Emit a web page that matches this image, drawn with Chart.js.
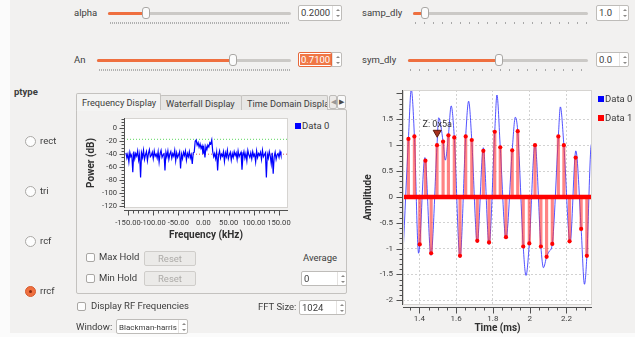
<!DOCTYPE html>
<html><head><meta charset="utf-8">
<script src="https://cdn.jsdelivr.net/npm/chart.js@4.4.1/dist/chart.umd.min.js"></script>
<style>
html,body{margin:0;padding:0;width:635px;height:337px;overflow:hidden;background:#fbfbfb;}
body{font-family:Roboto,"Liberation Sans",sans-serif;font-size:9.5px;color:#3c3c3c;position:relative;}
.a{position:absolute;}
.lbl{position:absolute;height:12px;line-height:12px;white-space:nowrap;}
.track{position:absolute;height:3px;background:#cbc9c6;border-radius:2px;}
.fill{position:absolute;height:3px;background:#ef6f3f;border-radius:2px;}
.handle{position:absolute;width:6px;height:10px;background:#fbfbfb;border:1px solid #a9a7a4;border-radius:3px;}
.ticksD{position:absolute;height:2px;background:repeating-linear-gradient(to right,#b0b0b0 0 1px,transparent 1px 2px);}
.ticksS{position:absolute;height:2px;background:repeating-linear-gradient(to right,#a8a8a8 0 1px,transparent 1px 9px);}
.box{position:absolute;background:#fff;border:1px solid #bebcb9;border-radius:2px;box-sizing:border-box;}
.arrs{position:absolute;width:8px;}
.up,.dn{position:absolute;left:2px;width:0;height:0;border-left:2px solid transparent;border-right:2px solid transparent;}
.up{border-bottom:2px solid #8a8886;}
.dn{border-top:2px solid #8a8886;}
.radio{position:absolute;width:11px;height:11px;border-radius:50%;box-sizing:border-box;border:1px solid #a9a7a4;background:#fdfdfd;}
.radio.on{background:#ef7040;border-color:#d65a2c;}
.radio.on:after{content:"";position:absolute;left:3px;top:3px;width:3px;height:3px;border-radius:50%;background:#8a2a10;}
.chk{position:absolute;width:9px;height:9px;box-sizing:border-box;border:1px solid #a9a7a4;border-radius:2px;background:#fdfdfd;}
.btn{position:absolute;box-sizing:border-box;border:1px solid #cfcdca;border-radius:2px;background:#ebeae8;color:#acaaa7;text-align:center;}
.tab{position:absolute;box-sizing:border-box;border:1px solid #c4c2bf;border-bottom:none;border-radius:2px 2px 0 0;background:#e7e6e4;overflow:hidden;white-space:nowrap;line-height:16px;padding-left:5px;font-size:9.2px;}
canvas{position:absolute;}
</style>
</head><body>
<div class="a" style="left:10px;top:0;width:625px;height:333px;background:#f2f1f0"></div>

<!-- tab pane -->
<div class="a" style="left:76px;top:109px;width:271px;height:185px;box-sizing:border-box;border:1px solid #c4c2bf;border-radius:2px;background:#f2f1f0"></div>
<div class="tab" style="left:160px;top:95px;width:82px;height:15px;">Waterfall Display</div>
<div class="tab" style="left:241px;top:95px;width:87px;height:15px;">Time Domain Display</div>
<div class="tab" style="left:76px;top:93px;width:85px;height:17px;background:#f4f4f3;line-height:17px;">Frequency Display</div>
<div class="a" style="left:77px;top:109px;width:83px;height:2px;background:#f4f4f3"></div>
<div class="box" style="left:329px;top:95px;width:8px;height:14px;background:#eceae8;color:#9a9896;font-size:7px;line-height:13px;text-align:center">&#9664;</div>
<div class="box" style="left:337px;top:95px;width:9px;height:14px;background:#fafafa;color:#4a4a4a;font-size:7px;line-height:13px;text-align:center">&#9654;</div>

<canvas id="freq" width="214" height="134" style="left:81px;top:110px;width:214px;height:134px"></canvas>
<canvas id="time" width="240" height="255" style="left:360px;top:82px;width:240px;height:255px"></canvas>

<script>
// ---------------- data ----------------
// Frequency display (FFT bins)
const FREQ_START_KHZ = -154;
const FREQ_STEP_KHZ = 1.937;
const POWER_DB = [
 -38,-46,-40,-52,-37,-44,-41,-68,-36,-47,-39,-43,-35,-49,-40,-76,
 -38,-45,-34,-48,-41,-36,-50,-39,-33,-44,-42,-37,-47,-35,-43,-40,
 -46,-36,-52,-39,-34,-45,-41,-38,-65,-37,-44,-35,-48,-40,-36,-46,
 -39,-43,-34,-50,-38,-45,-41,-36,-62,-40,-47,-37,-42,-35,-49,-39,
 -44,-36,-46,-41,-55,-38,-37,
 -20,-18,-26,-22,-29,-24,-31,-27,-40,-30,-45,-28,-33,-26,-29,-22,-24,-18,
 -36,-44,-39,-47,-37,-65,-41,
 -35,-46,-40,-43,-36,-51,-38,-44,-34,-47,-41,-37,-49,-39,-45,-36,
 -42,-38,-48,-35,-44,-40,-37,-64,-43,-36,-46,-39,-50,-34,-41,-45,
 -38,-47,-36,-43,-40,-52,-35,-45,-39,-42,-37,-48,-34,-44,-41,-38,
 -76,-40,-46,-36,-43,-55,-38,-70,-44,-37,-48,-41,-39,-45,-36,-42];
const MARKER_HIGH_DB = -17;
const MARKER_LOW_DB = -40;
const FREQ_TICKS = [-150,-100,-50,0,50,100,150];
const POWER_TICKS = [0,-20,-40,-60,-80,-100,-120];
const FREQ_MIN = -157.9, FREQ_MAX = 167.9, POWER_MIN = -123.1, POWER_MAX = 15.9;

// Time domain display
const WAVE_T = [1.311,1.3405,1.356,1.373,1.396,1.402,1.430,1.463,1.496,1.505,1.529,1.541,1.558,1.573,1.590,1.621,1.652,1.668,1.685,1.715,1.748,1.779,1.810,1.822,1.840,1.871,1.905,1.922,1.935,1.965,1.980,1.998,2.029,2.061,2.075,2.092,2.107,2.123,2.156,2.167,2.186,2.220,2.251,2.280,2.298,2.311,2.332,2.339];
const WAVE_V = [-1.12,1.12,2.08,1.17,-1.09,-0.92,0.76,-1.13,1.00,1.53,1.07,0.71,1.19,1.76,1.15,-1.17,1.17,1.85,1.10,-0.88,0.95,-0.92,1.26,1.97,0.96,-0.81,0.90,1.54,1.27,-0.96,-1.52,-0.90,1.02,-0.96,-1.37,-1.16,-1.05,-0.91,1.17,1.74,1.00,-0.88,0.89,-0.62,-1.69,-1.14,0.91,1.05];
const SYM_T = [1.3405,1.373,1.402,1.433,1.464,1.496,1.529,1.558,1.590,1.621,1.652,1.685,1.715,1.748,1.779,1.810,1.840,1.871,1.905,1.935,1.965,1.998,2.029,2.061,2.092,2.123,2.156,2.186,2.217,2.250,2.280,2.311];
const SYM_V = [1.12,1.17,-0.92,0.70,-1.09,1.00,1.07,1.19,1.15,-1.14,1.17,1.10,-0.85,0.89,-0.88,1.26,0.96,-0.78,0.90,1.27,-0.96,-0.90,1.00,-0.96,-1.16,-0.91,1.17,1.00,-0.86,0.76,-0.62,-1.14];
const TAG_T = [1.497];
const TAG_V = [1.22];
const TAG_TEXT = ['Z: 0x5a'];
const TIME_TICKS = [1.4,1.6,1.8,2.0,2.2];
const AMP_TICKS = [-2,-1.5,-1,-0.5,0,0.5,1,1.5];
const T_MIN = 1.311, T_MAX = 2.339, AMP_MIN = -2.091, AMP_MAX = 2.067;

// ---------------- widgets ----------------
function el(cls, css, html){const d=document.createElement('div');d.className=cls;d.style.cssText=css;if(html!=null)d.innerHTML=html;document.body.appendChild(d);return d;}
function slider(label, lx, x0, x1, hx, cy, dense){
  el('lbl','left:'+lx+'px;top:'+(cy-6)+'px',label);
  el('track','left:'+x0+'px;top:'+(cy-1)+'px;width:'+(x1-x0)+'px');
  el('fill','left:'+x0+'px;top:'+(cy-1)+'px;width:'+(hx-x0)+'px');
  el('handle','left:'+(hx-4)+'px;top:'+(cy-6)+'px');
  el(dense?'ticksD':'ticksS','left:'+(x0+2)+'px;top:'+(cy+9)+'px;width:'+(x1-x0-3)+'px');
}
function spin(x0,x1,y0,y1,text,sel){
  el('box','left:'+x0+'px;top:'+y0+'px;width:'+(x1-x0)+'px;height:'+(y1-y0)+'px');
  el('a','left:'+(x1-10)+'px;top:'+(y0+1)+'px;width:1px;height:'+(y1-y0-2)+'px;background:#e4e2e0');
  const ar=el('arrs','left:'+(x1-8)+'px;top:'+y0+'px;height:'+(y1-y0)+'px');
  const u=document.createElement('div');u.className='up';u.style.top=((y1-y0)/2-4)+'px';ar.appendChild(u);
  const d=document.createElement('div');d.className='dn';d.style.top=((y1-y0)/2+2)+'px';ar.appendChild(d);
  if(sel){
    el('box','left:'+x0+'px;top:'+y0+'px;width:'+(x1-x0-10)+'px;height:'+(y1-y0)+'px;border-color:#e8683a');
    el('a','left:'+(x0+2)+'px;top:'+(y0+2)+'px;height:'+(y1-y0-4)+'px;line-height:'+(y1-y0-4)+'px;background:#f07746;color:#fff;padding:0 1px',text);
  } else {
    el('lbl','left:'+(x0+3)+'px;top:'+((y0+y1)/2-6)+'px',text);
  }
}
slider('alpha',74,108,291,146,13,true);
slider('An',74,97,291,233,60,true);
slider('samp_dly',362,413,588,425,13,false);
slider('sym_dly',362,408,588,499,60,false);
spin(298,342,5,21,'0.2000',false);
spin(298,342,52,67,'0.7100',true);
spin(596,629,5,21,'1.0',false);
spin(596,629,52,67,'0.0',false);

el('lbl','left:14px;top:86px;font-weight:bold','ptype');
[['rect',141,false],['tri',191,false],['rcf',241,false],['rrcf',291,true]].forEach(r=>{
  el('radio'+(r[2]?' on':''),'left:25px;top:'+(r[1]-5)+'px');
  el('lbl','left:40px;top:'+(r[1]-6)+'px',r[0]);
});

el('chk','left:86px;top:253px');
el('lbl','left:99px;top:251px','Max Hold');
el('btn','left:144px;top:251px;width:52px;height:15px;line-height:13px','Reset');
el('chk','left:86px;top:274px');
el('lbl','left:99px;top:272px','Min Hold');
el('btn','left:144px;top:271px;width:52px;height:15px;line-height:13px','Reset');
el('lbl','left:303px;top:252px','Average');
spin(301,347,271,286,'0',false);
el('chk','left:77px;top:302px');
el('lbl','left:91px;top:300px','Display RF Frequencies');
el('lbl','left:258px;top:301px','FFT Size:');
spin(299,346,300,315,'1024',false);
el('lbl','left:76px;top:321px','Window:');
spin(116,188,319,334,'<span style="font-size:8px">Blackman-harris</span>',false);

// legends
el('a','left:295px;top:123px;width:6px;height:6px;background:#0000ff');
el('lbl','left:302px;top:120px','Data 0');
el('a','left:598px;top:96px;width:6px;height:6px;background:#0000ff');
el('lbl','left:605px;top:93px','Data 0');
el('a','left:598px;top:115px;width:6px;height:6px;background:#ff0000');
el('lbl','left:605px;top:112px','Data 1');

// ---------------- charts ----------------
const qwt = {
  id:'qwt',
  beforeDraw(chart){
    const {ctx, chartArea:a} = chart;
    ctx.save(); ctx.fillStyle='#ffffff'; ctx.fillRect(a.left,a.top,a.right-a.left,a.bottom-a.top); ctx.restore();
  },
  afterDraw(chart, args, o){
    const {ctx, chartArea:a} = chart, xs = chart.scales.x, ys = chart.scales.y;
    ctx.save();
    ctx.strokeStyle='#d6d4d1'; ctx.lineWidth=1;
    ctx.strokeRect(a.left+0.5,a.top+0.5,a.right-a.left-1,a.bottom-a.top-1);
    ctx.strokeStyle='#505050';
    const bx = Math.round(a.left - o.yGap) + 0.5;
    const by = Math.round(a.bottom + o.xGap) + 0.5;
    ctx.beginPath(); ctx.moveTo(bx, a.top); ctx.lineTo(bx, a.bottom); ctx.stroke();
    ctx.beginPath(); ctx.moveTo(a.left, by); ctx.lineTo(a.right, by); ctx.stroke();
    function marks(from, to, minor, major, draw){
      const k0 = Math.ceil(from/minor - 1e-9), k1 = Math.floor(to/minor + 1e-9);
      for(let k=k0;k<=k1;k++){const v=k*minor; const r=v/major; draw(v, Math.abs(r-Math.round(r))<1e-6);}
    }
    ctx.beginPath();
    marks(o.yFrom,o.yTo,o.yMinor,o.yMajor,(v,maj)=>{const p=Math.round(ys.getPixelForValue(v))+0.5; ctx.moveTo(bx,p); ctx.lineTo(bx-(maj?o.majLen:o.minLen),p);});
    marks(o.xFrom,o.xTo,o.xMinor,o.xMajor,(v,maj)=>{const p=Math.round(xs.getPixelForValue(v))+0.5; ctx.moveTo(p,by); ctx.lineTo(p,by+(maj?o.majLen:o.minLen));});
    ctx.stroke();
    if(o.tags){
      o.tags.t.forEach((t,i)=>{
        const px = xs.getPixelForValue(t), py = ys.getPixelForValue(o.tags.v[i]);
        ctx.fillStyle='#a8321f'; ctx.strokeStyle='#5a1a10';
        ctx.beginPath(); ctx.moveTo(px-4,py-3.5); ctx.lineTo(px+4,py-3.5); ctx.lineTo(px,py+3.5); ctx.closePath(); ctx.fill(); ctx.stroke();
        ctx.fillStyle='#333'; ctx.font='9px Roboto'; ctx.textAlign='center'; ctx.textBaseline='alphabetic';
        ctx.fillText(o.tags.text[i], px, py-7);
      });
    }
    ctx.restore();
  }
};

const tickFont = {family:'Roboto', size:7.6};
const titleFont = {family:'Roboto', size:10, weight:'bold'};

new Chart(document.getElementById('freq'), {
  type:'line',
  data:{datasets:[
    {label:'Data 0', data:POWER_DB.map((v,i)=>({x:FREQ_START_KHZ+i*FREQ_STEP_KHZ, y:v})), borderColor:'#0000ff', borderWidth:1.2, pointRadius:0, tension:0, order:0},
    {label:'high', data:[{x:FREQ_MIN,y:MARKER_HIGH_DB},{x:FREQ_MAX,y:MARKER_HIGH_DB}], borderColor:'#5bd65b', borderWidth:1, borderDash:[1,2], pointRadius:0, order:1},
    {label:'low', data:[{x:FREQ_MIN,y:MARKER_LOW_DB},{x:FREQ_MAX,y:MARKER_LOW_DB}], borderColor:'#d25a5a', borderWidth:1, borderDash:[1,2], pointRadius:0, order:1}
  ]},
  options:{
    responsive:false, animation:false, devicePixelRatio:1,
    layout:{padding:{left:0,right:7,top:8,bottom:0}},
    plugins:{legend:{display:false}, tooltip:{enabled:false},
      qwt:{yGap:0.5,xGap:1.5,majLen:5,minLen:3,yFrom:-120,yTo:15,yMinor:5,yMajor:20,xFrom:-150,xTo:150,xMinor:10,xMajor:50}},
    scales:{
      x:{type:'linear',min:FREQ_MIN,max:FREQ_MAX,offset:false,
        afterFit:s=>{s.height=36;},
        afterBuildTicks:s=>{s.ticks=FREQ_TICKS.map(v=>({value:v}));},
        ticks:{autoSkip:false,maxRotation:0,minRotation:0,includeBounds:false,padding:3,color:'#3c3c3c',font:tickFont,callback:v=>v.toFixed(2)},
        grid:{display:true,drawOnChartArea:false,drawTicks:true,tickLength:8,color:'rgba(0,0,0,0)',offset:false},
        border:{display:false},
        title:{display:true,text:'Frequency (kHz)',color:'#303030',font:titleFont,padding:{top:0,bottom:3}}},
      y:{type:'linear',min:POWER_MIN,max:POWER_MAX,
        afterFit:s=>{s.width=43;},
        afterBuildTicks:s=>{s.ticks=POWER_TICKS.map(v=>({value:v}));},
        ticks:{autoSkip:false,includeBounds:false,padding:2,color:'#3c3c3c',font:tickFont,callback:v=>String(v)},
        grid:{display:true,drawOnChartArea:false,drawTicks:true,tickLength:5,color:'rgba(0,0,0,0)'},
        border:{display:false},
        title:{display:true,text:'Power (dB)',color:'#303030',font:titleFont,padding:{top:4,bottom:0}}}
    }
  },
  plugins:[qwt]
});

const symPts = SYM_T.map((t,i)=>({x:t,y:SYM_V[i]}));
new Chart(document.getElementById('time'), {
  type:'scatter',
  data:{datasets:[
    {type:'line', label:'Data 0', data:WAVE_T.map((t,i)=>({x:t,y:WAVE_V[i]})), borderColor:'rgba(40,40,255,0.8)', borderWidth:1, pointRadius:0, cubicInterpolationMode:'monotone', order:3},
    {type:'bar', label:'Data 1 stems', data:symPts, backgroundColor:'rgba(255,50,50,0.6)', barThickness:2.5, order:2},
    {type:'line', label:'Data 1 zero', data:[{x:T_MIN,y:0},{x:T_MAX,y:0}], borderColor:'#ff0000', borderWidth:4.5, pointRadius:0, order:1},
    {type:'scatter', label:'Data 1', data:symPts, backgroundColor:'#ff0000', borderColor:'#ff0000', pointRadius:2.1, pointBorderWidth:0, order:0}
  ]},
  options:{
    responsive:false, animation:false, devicePixelRatio:1,
    layout:{padding:{left:0,right:8,top:8,bottom:0}},
    plugins:{legend:{display:false}, tooltip:{enabled:false},
      qwt:{yGap:1.5,xGap:1.5,majLen:6,minLen:3,yFrom:AMP_MIN,yTo:AMP_MAX,yMinor:0.1,yMajor:0.5,xFrom:T_MIN,xTo:T_MAX,xMinor:0.05,xMajor:0.2,
        tags:{t:TAG_T,v:TAG_V,text:TAG_TEXT}}},
    scales:{
      x:{type:'linear',min:T_MIN,max:T_MAX,offset:false,
        afterFit:s=>{s.height=32;},
        afterBuildTicks:s=>{s.ticks=TIME_TICKS.map(v=>({value:v}));},
        ticks:{autoSkip:false,maxRotation:0,minRotation:0,includeBounds:false,padding:3,color:'#3c3c3c',font:{family:'Roboto',size:8},callback:v=>String(v)},
        grid:{display:true,drawOnChartArea:true,drawTicks:true,tickLength:6,color:'#d2d2d2',tickColor:'rgba(0,0,0,0)',offset:false},
        border:{display:false,dash:[2,2]},
        title:{display:true,text:'Time (ms)',color:'#303030',font:titleFont,padding:{top:0,bottom:3}}},
      y:{type:'linear',min:AMP_MIN,max:AMP_MAX,
        afterFit:s=>{s.width=43;},
        afterBuildTicks:s=>{s.ticks=AMP_TICKS.map(v=>({value:v}));},
        ticks:{autoSkip:false,includeBounds:false,padding:3,color:'#3c3c3c',font:{family:'Roboto',size:8},callback:v=>String(v)},
        grid:{display:true,drawOnChartArea:true,drawTicks:true,tickLength:7,color:'#d2d2d2',tickColor:'rgba(0,0,0,0)'},
        border:{display:false,dash:[2,2]},
        title:{display:true,text:'Amplitude',color:'#303030',font:titleFont,padding:{top:2,bottom:0}}}
    }
  },
  plugins:[qwt]
});
</script>
</body></html>
